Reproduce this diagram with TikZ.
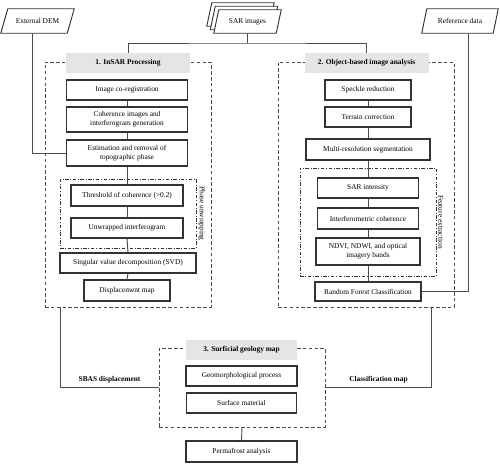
\documentclass[tikz,border=0pt]{standalone}
\usepackage{fontspec}
\setmainfont{Liberation Serif}
\usetikzlibrary{calc,backgrounds}
\tikzset{
    BX/.style 2 args ={rectangle, minimum width = #1*0.03cm, minimum height = #2*0.03cm, inner sep=1pt, align=center, draw=black!80, line width=0.9pt},
    TT/.style 2 args ={rectangle, minimum width = #1*0.03cm, minimum height = #2*0.03cm, inner sep=1pt, fill=black!10, font=\fontsize{6.3}{7.6}\selectfont\bfseries},
    SE/.style 2 args ={rectangle, minimum width = #1*0.03cm, minimum height = #2*0.03cm, draw=black!70, line width=0.8pt, dash pattern=on 3pt off 2pt},
    DD/.style 2 args ={rectangle, minimum width = #1*0.03cm, minimum height = #2*0.03cm, draw=black!80, line width=0.6pt, dash pattern=on 3pt off 1.5pt on 0.6pt off 1.5pt},
    IN/.style 2 args ={rectangle, minimum width = #1*0.03cm, minimum height = #2*0.03cm, inner sep=1pt},
    IO/.style ={draw=black!80, line width=0.8pt, fill=white},
    LN/.style ={draw=black!70, line width=0.8pt},
    VL/.style ={rotate=-90, anchor=south, inner sep=1.5pt},
    SU/.style ={above, font=\fontsize{6.3}{7.6}\selectfont\bfseries}}
\begin{document}
\begin{tikzpicture}[x=0.03cm, y=-0.03cm, every node/.style={font=\fontsize{6.3}{7.6}\selectfont}]
        \useasboundingbox (0,0) rectangle (500,463);
        \node[IN={66}{24}] (1) at(37.5,21){External DEM};
        \node[IN={62}{23}] (2) at(247.5,21.5){SAR images};
        \node[IN={71}{24}] (3) at(460,21){Reference data};
        \begin{scope}[on background layer]
        \draw[IO] ($(1.south west)+(-3.5,0)$) -- ($(1.north west)+(3.5,0)$) -- ($(1.north east)+(3.5,0)$) -- ($(1.south east)+(-3.5,0)$) -- cycle;
        \draw[IO] ($(3.south west)+(-2.5,0)$) -- ($(3.north west)+(2.5,0)$) -- ($(3.north east)+(2.5,0)$) -- ($(3.south east)+(-2.5,0)$) -- cycle;
        \foreach \d in {7,3.5,0}
            \draw[IO] ($(2.south west)+(-2.5-\d,-\d)$) -- ($(2.north west)+(2.5-\d,-\d)$) -- ($(2.north east)+(2.5-\d,-\d)$) -- ($(2.south east)+(-2.5-\d,-\d)$) -- cycle;
        \end{scope}
        \node[SE={166}{245}] (4) at(128,184.5){};
        \node[TT={124}{20}] (5) at(128,63){1. InSAR Processing};
        \node[BX={121}{20}] (6) at(127,90){Image co-registration};
        \node[BX={121}{25}] (7) at(127,119.5){Coherence images and\\interferogram generation};
        \node[BX={121}{26}] (8) at(127,153){Estimation and removal of\\topographic phase};
        \node[DD={136}{69}] (9) at(128,213.5){};
        \node[BX={112}{21}] (10) at(127,195.5){Threshold of coherence (>0.2)};
        \node[BX={112}{20}] (11) at(127,228){Unwrapped interferogram};
        \node[BX={136}{20}] (12) at(128,263){Singular value decomposition (SVD)};
        \node[BX={86}{21}] (13) at(127,290.5){Displacement map};
        \node[VL] (29) at(9.east){Phase unwrapping};
        \node[SE={176}{245}] (14) at(366,184.5){};
        \node[TT={124}{20}] (15) at(366.5,63){2. Object-based image analysis};
        \node[BX={86}{20}] (16) at(368,90){Speckle reduction};
        \node[BX={86}{20}] (17) at(368,117){Terrain correction};
        \node[BX={124}{21}] (18) at(368,149.5){Multi-resolution segmentation};
        \node[DD={136}{108}] (19) at(368,222){};
        \node[BX={101}{20}] (20) at(368,188){SAR intensity};
        \node[BX={101}{21}] (21) at(368,218.5){Interferometric coherence};
        \node[BX={104}{27}] (22) at(368,251.5){NDVI, NDWI, and optical\\imagery bands};
        \node[BX={106}{19}] (23) at(368,291.5){Random Forest Classification};
        \node[VL] (30) at(19.east){Feature extraction};
        \node[SE={166}{79}] (24) at(242,387.5){};
        \node[TT={111}{20}] (25) at(241.5,350){3. Surficial geology map};
        \node[BX={111}{20}] (26) at(241.5,376){Geomorphological process};
        \node[BX={110}{20}] (27) at(241.5,403){Surface material};
        \node[BX={111}{21}] (28) at(241.5,451.5){Permafrost analysis};
        \coordinate (31) at(247.5,43);
        \draw[LN] (2.south) -- (31);
        \draw[LN] (5.north) |- (31) -| (15.north);
        \draw[LN] ($(1.south)+(-5.5,0)$) |- (8.west);
        \draw[LN] ($(3.south)+(8,0)$) |- (23.east);
        \draw[LN] (6.south) -- (7.north);
        \draw[LN] (7.south) -- (8.north);
        \draw[LN] (8.south) -- (10.north);
        \draw[LN] (10.south) -- (11.north);
        \draw[LN] (11.south) -- (12.north);
        \draw[LN] (12.south) -- (13.north);
        \draw[LN] (16.south) -- (17.north);
        \draw[LN] (17.south) -- (18.north);
        \draw[LN] (18.south) -- (20.north);
        \draw[LN] (20.south) -- (21.north);
        \draw[LN] (21.south) -- (22.north);
        \draw[LN] (22.south) -- (23.north);
        \draw[LN] ($(4.south west)+(16,0)$) |- (24.west) node[SU,pos=0.75]{SBAS displacement};
        \draw[LN] ($(14.south east)+(-23,0)$) |- (24.east) node[SU,pos=0.75]{Classification map};
        \draw[LN] (24.south) -- (28.north);
    \end{tikzpicture}
\end{document}
